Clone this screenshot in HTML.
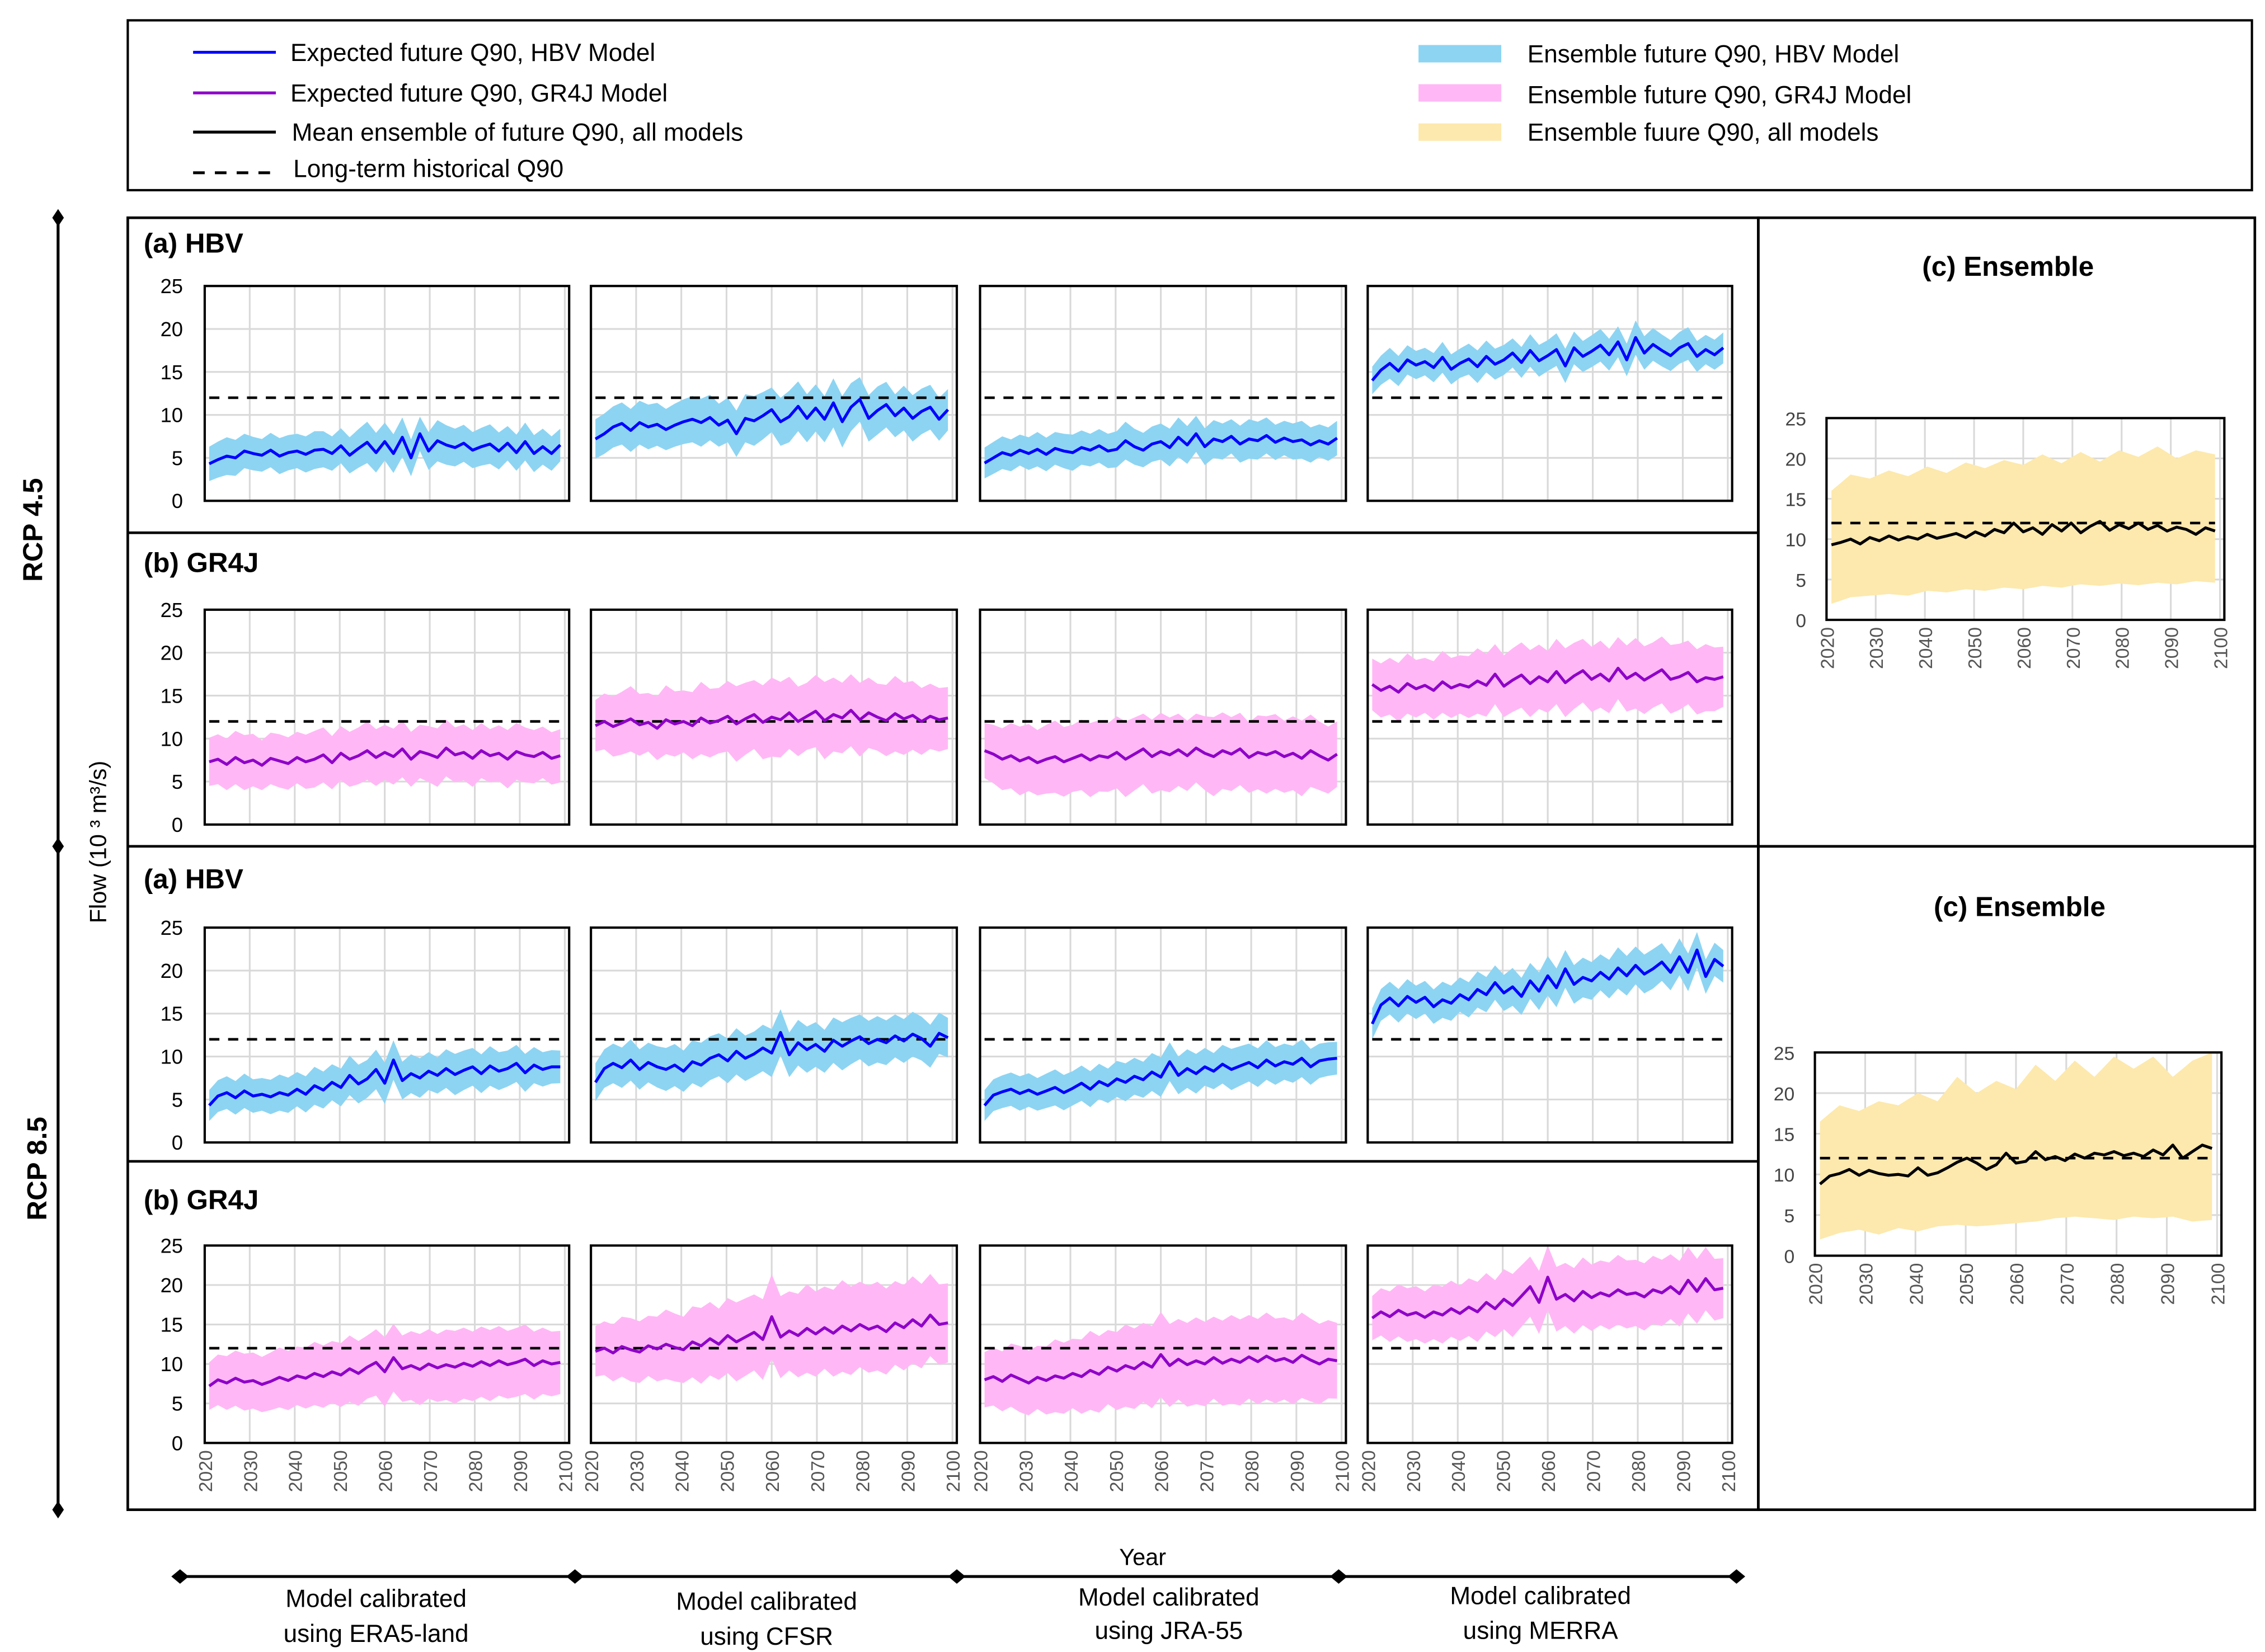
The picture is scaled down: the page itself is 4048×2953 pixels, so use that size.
<!DOCTYPE html>
<html><head><meta charset="utf-8"><style>
html,body{margin:0;padding:0;background:#fff}
svg{display:block}
text{font-family:"Liberation Sans",sans-serif}
</style></head><body>
<svg id="fig" xmlns="http://www.w3.org/2000/svg" width="4048" height="2953" viewBox="0 0 1560 1138">
<rect x="0" y="0" width="1560" height="1138" fill="#fff"/>
<g>
<rect x="88" y="14" width="1463" height="117" fill="none" stroke="#000" stroke-width="1.6"/>
<line x1="133" y1="36" x2="190" y2="36" stroke="#0000ff" stroke-width="2"/>
<text x="200" y="42" font-size="17">Expected future Q90, HBV Model</text>
<line x1="133" y1="64" x2="190" y2="64" stroke="#8e00c8" stroke-width="2"/>
<text x="200" y="70" font-size="17">Expected future Q90, GR4J Model</text>
<line x1="133" y1="91" x2="190" y2="91" stroke="#000" stroke-width="2"/>
<text x="201" y="97" font-size="17">Mean ensemble of future Q90, all models</text>
<line x1="133" y1="119" x2="190" y2="119" stroke="#000" stroke-width="2" stroke-dasharray="8,7"/>
<text x="202" y="122" font-size="17">Long-term historical Q90</text>
<rect x="977" y="31" width="57" height="12" fill="#8dd4f2"/>
<text x="1052" y="43" font-size="17">Ensemble future Q90, HBV Model</text>
<rect x="977" y="58" width="57" height="12" fill="#ffb8f5"/>
<text x="1052" y="71" font-size="17">Ensemble future Q90, GR4J Model</text>
<rect x="977" y="85" width="57" height="12" fill="#fde9ad"/>
<text x="1052" y="97" font-size="17">Ensemble fuure Q90, all models</text>
</g>
<g fill="none" stroke="#000" stroke-width="1.8">
<rect x="88" y="150" width="1123" height="890"/>
<rect x="1211" y="150" width="342" height="433"/>
<rect x="1211" y="583" width="342" height="457"/>
<line x1="88" y1="367" x2="1211" y2="367"/>
<line x1="88" y1="583" x2="1211" y2="583"/>
<line x1="88" y1="800" x2="1211" y2="800"/>
</g>
<g>
<line x1="40" y1="150" x2="40" y2="1040" stroke="#000" stroke-width="2"/>
<path d="M40 144 L44 150 L40 156 L36 150Z M40 577 L44 583 L40 589 L36 583Z M40 1034 L44 1040 L40 1046 L36 1040Z" fill="#000"/>
<text transform="translate(29,365) rotate(-90)" text-anchor="middle" font-size="19" font-weight="bold">RCP 4.5</text>
<text transform="translate(32,805) rotate(-90)" text-anchor="middle" font-size="19" font-weight="bold">RCP 8.5</text>
<text transform="translate(73,580) rotate(-90)" text-anchor="middle" font-size="16">Flow (10 ³ m³/s)</text>
</g>
<g font-size="19" font-weight="bold">
<text x="99" y="174">(a) HBV</text>
<text x="99" y="394">(b) GR4J</text>
<text x="99" y="612">(a) HBV</text>
<text x="99" y="833">(b) GR4J</text>
<text x="1383" y="190" text-anchor="middle">(c) Ensemble</text>
<text x="1391" y="631" text-anchor="middle">(c) Ensemble</text>
</g>
<g>
<text x="787" y="1078" text-anchor="middle" font-size="16">Year</text>
<line x1="124" y1="1086" x2="1196" y2="1086" stroke="#000" stroke-width="2"/>
<path d="M124 1081 L130 1086 L124 1091 L118 1086Z M396 1081 L402 1086 L396 1091 L390 1086Z M659 1081 L665 1086 L659 1091 L653 1086Z M922 1081 L928 1086 L922 1091 L916 1086Z M1196 1081 L1202 1086 L1196 1091 L1190 1086Z" fill="#000"/>
<g font-size="17" text-anchor="middle">
<text x="259" y="1107">Model calibrated</text><text x="259" y="1131">using  ERA5-land</text>
<text x="528" y="1109">Model calibrated</text><text x="528" y="1133">using  CFSR</text>
<text x="805" y="1106">Model calibrated</text><text x="805" y="1129">using  JRA-55</text>
<text x="1061" y="1105">Model calibrated</text><text x="1061" y="1129">using  MERRA</text>
</g>
</g>
<g id="charts"></g>
</svg>
<script>
const yTicks = [0,5,10,15,20,25];
const xTicks = [2020,2030,2040,2050,2060,2070,2080,2090,2100];
const histQ90 = 12;
const m_h45_era=[4.3,4.8,5.2,5.0,5.8,5.5,5.3,5.9,5.2,5.6,5.8,5.4,5.9,6.0,5.5,6.4,5.3,6.1,6.8,5.6,6.9,5.5,7.4,5.0,7.8,5.8,7.0,6.5,6.2,6.7,5.9,6.3,6.6,5.8,6.7,5.6,6.9,5.5,6.3,5.5,6.5];
const w_h45_era=[2.0,2.2,2.0,1.9,2.1,2.0,2.2,2.0,2.1,2.4,2.2,2.3,2.0,2.4,2.2,2.1,2.3,2.0,2.2,2.1,1.9];
const m_h45_cfsr=[7.2,7.8,8.6,9.0,8.2,9.1,8.6,8.9,8.3,8.8,9.2,9.5,9.1,9.7,8.8,9.4,7.8,9.6,9.3,9.9,10.6,9.2,9.8,11.0,9.6,10.8,9.5,11.4,9.2,10.9,11.8,9.6,10.5,11.2,9.9,10.8,9.6,10.4,10.9,9.5,10.6];
const w_h45_cfsr=[2.3,2.4,2.5,2.6,2.4,2.6,2.8,2.5,2.7,2.9,2.6,3.0,2.8,2.7,3.0,2.6,2.8,2.5,2.7,2.6,2.4];
const m_h45_jra=[4.4,5.0,5.6,5.3,5.9,5.5,6.0,5.4,6.1,5.8,5.6,6.2,5.9,6.4,5.8,6.0,7.0,6.3,5.9,6.6,6.9,6.2,7.4,6.5,7.8,6.3,7.2,6.9,7.5,6.6,7.2,7.0,7.6,6.8,7.3,6.9,7.1,6.5,7.0,6.6,7.3];
const w_h45_jra=[1.8,1.9,1.8,2.0,1.9,2.1,1.9,2.0,2.2,2.0,2.1,2.3,2.1,2.2,2.0,2.3,2.1,2.0,2.2,1.9,2.0];
const m_h45_merra=[14.0,15.2,16.0,15.1,16.4,15.8,16.2,15.5,16.7,15.3,16.0,16.5,15.6,16.8,15.9,16.4,17.2,16.1,17.5,16.3,16.9,17.6,15.7,17.8,16.8,17.4,18.1,17.0,18.5,16.4,19.0,17.2,18.2,17.5,16.9,17.8,18.3,16.8,17.6,17.0,17.8];
const w_h45_merra=[1.6,1.8,1.7,1.6,1.8,1.7,1.9,1.8,1.7,1.9,1.8,2.0,1.8,1.9,1.8,2.0,1.9,1.8,1.9,1.7,1.8];
const m_g45_era=[7.3,7.6,7.0,7.8,7.2,7.5,6.9,7.7,7.4,7.1,7.8,7.3,7.6,8.1,7.2,8.3,7.6,8.0,8.6,7.8,8.4,7.9,8.8,7.6,8.5,8.2,7.8,8.9,8.1,8.4,7.7,8.6,8.0,8.3,7.6,8.5,8.1,7.9,8.4,7.7,8.0];
const w_g45_era=[2.8,3.0,3.2,2.9,3.1,3.0,3.3,3.1,3.2,3.4,3.2,3.3,3.1,3.4,3.2,3.3,3.1,3.4,3.2,3.0,3.1];
const m_g45_cfsr=[11.5,12.0,11.4,11.8,12.3,11.6,11.9,11.2,12.2,11.7,12.0,11.5,12.4,11.8,12.1,12.6,11.7,12.3,12.8,11.9,12.5,12.2,13.0,12.0,12.6,13.2,12.1,12.8,12.4,13.3,12.2,13.0,12.5,12.1,12.9,12.3,12.7,12.0,12.6,12.2,12.4];
const w_g45_cfsr=[3.0,3.5,3.8,3.4,4.0,3.6,4.2,3.8,4.4,4.0,4.6,4.2,3.9,4.5,4.1,4.3,3.9,4.4,4.0,3.8,3.6];
const m_g45_jra=[8.6,8.2,7.6,8.0,7.4,7.8,7.2,7.6,7.9,7.3,7.7,8.1,7.5,8.0,7.8,8.4,7.6,8.2,8.8,7.9,8.5,8.1,8.7,8.0,8.9,8.3,7.9,8.6,8.2,8.8,7.8,8.4,8.1,8.5,7.9,8.3,7.7,8.6,8.0,7.5,8.2];
const w_g45_jra=[3.2,3.6,4.0,3.8,4.2,3.9,4.3,4.0,4.4,4.1,4.5,4.2,4.0,4.6,4.3,4.1,4.5,4.2,4.4,4.0,3.8];
const m_g45_merra=[16.3,15.6,16.1,15.4,16.4,15.8,16.2,15.6,16.6,15.9,16.3,16.0,16.7,16.2,17.5,16.1,16.8,17.4,16.4,17.2,16.6,17.8,16.5,17.3,17.9,16.9,17.5,16.7,18.2,17.0,17.6,16.8,17.4,18.0,16.9,17.2,17.7,16.6,17.1,16.9,17.2];
const w_g45_merra=[3.0,3.3,3.5,3.2,3.6,3.4,3.8,3.5,3.7,3.9,3.6,4.0,3.7,3.9,3.6,4.1,3.8,4.0,3.7,3.9,3.5];
const m_h85_era=[4.3,5.4,5.8,5.2,6.0,5.4,5.6,5.3,5.8,5.5,6.2,5.6,6.6,6.1,7.0,6.4,7.8,6.8,7.4,8.5,6.9,9.6,7.2,8.0,7.5,8.3,7.8,8.6,7.9,8.4,8.8,8.0,8.9,8.3,8.6,9.2,8.1,9.0,8.5,8.8,8.8];
const w_h85_era=[1.8,1.9,2.0,1.9,2.1,2.0,2.2,2.1,2.3,2.2,2.4,2.2,2.3,2.1,2.4,2.2,2.3,2.1,2.2,2.0,1.9];
const m_h85_cfsr=[7.0,8.6,9.2,8.7,9.6,8.5,9.3,8.8,8.5,9.0,8.3,9.4,9.0,9.8,10.2,9.5,10.6,9.8,10.3,11.0,10.4,12.8,10.2,11.6,10.8,11.4,10.6,11.9,11.2,11.8,12.3,11.5,12.0,11.6,12.4,11.8,12.6,12.1,11.2,12.7,12.2];
const w_h85_cfsr=[2.2,2.3,2.4,2.3,2.5,2.4,2.6,2.5,2.7,2.6,2.8,2.6,2.7,2.5,2.8,2.6,2.7,2.5,2.6,2.5,2.3];
const m_h85_jra=[4.3,5.5,5.9,6.2,5.7,6.1,5.6,6.0,6.4,5.8,6.3,6.9,6.2,7.1,6.6,7.4,7.0,7.7,7.3,8.2,7.6,9.4,7.8,8.6,8.0,8.8,8.3,9.1,8.5,8.9,9.3,8.7,9.6,8.9,9.4,9.1,9.8,8.8,9.5,9.7,9.8];
const w_h85_jra=[1.8,1.9,2.0,1.9,2.1,2.0,2.1,2.0,2.2,2.1,2.3,2.2,2.3,2.1,2.4,2.2,2.3,2.1,2.2,2.0,1.9];
const m_h85_merra=[13.8,16.0,16.8,15.9,17.0,16.3,16.9,15.8,16.6,16.2,17.2,16.6,17.8,17.2,18.6,17.4,18.1,17.0,18.8,17.6,19.4,18.0,20.2,18.4,19.2,18.8,19.8,19.0,20.3,19.4,20.6,19.6,20.2,21.0,19.8,21.6,19.8,22.4,19.3,21.3,20.5];
const w_h85_merra=[1.8,1.9,2.0,1.9,2.1,2.0,2.1,2.0,2.2,2.1,2.3,2.2,2.3,2.1,2.4,2.2,2.3,2.1,2.2,2.0,1.9];
const m_g85_era=[7.2,8.0,7.6,8.2,7.7,7.9,7.4,7.8,8.3,7.9,8.5,8.2,8.8,8.4,9.0,8.6,9.4,8.8,9.6,10.2,9.0,10.8,9.4,9.8,9.3,10.0,9.5,9.9,9.6,10.1,9.7,10.3,9.8,10.4,9.9,10.2,10.6,9.8,10.4,10.0,10.2];
const w_g85_era=[3.0,3.4,3.6,3.5,3.8,3.7,4.0,3.9,4.2,4.0,4.4,4.2,4.5,4.3,4.6,4.4,4.5,4.3,4.4,4.2,4.0];
const m_g85_cfsr=[11.6,12.0,11.4,12.2,11.8,11.5,12.3,11.9,12.5,12.1,11.8,12.8,12.3,13.2,12.5,13.6,12.8,13.4,14.0,13.1,16.0,13.4,14.2,13.6,14.5,13.8,14.6,13.9,14.8,14.2,15.0,14.4,14.8,14.1,15.2,14.6,15.6,14.8,16.2,15.0,15.2];
const w_g85_cfsr=[3.2,3.6,4.0,3.8,4.4,4.2,4.8,4.5,5.0,4.8,5.4,5.0,5.6,5.2,5.8,5.4,5.6,5.3,5.5,5.2,5.0];
const m_g85_jra=[8.0,8.4,7.8,8.6,8.1,7.6,8.3,7.9,8.5,8.2,8.8,8.4,9.2,8.7,9.6,9.1,9.8,9.4,10.2,9.6,11.2,9.8,10.6,9.9,10.4,10.0,10.8,10.1,10.6,10.2,10.9,10.3,11.0,10.4,10.7,10.2,11.1,10.5,10.0,10.6,10.4];
const w_g85_jra=[3.5,3.8,4.2,4.0,4.6,4.4,5.0,4.7,5.2,5.0,5.4,5.1,5.5,5.2,5.6,5.3,5.5,5.2,5.4,5.1,4.8];
const m_g85_merra=[15.8,16.6,16.0,16.8,16.2,16.5,15.9,16.6,16.2,17.0,16.4,17.2,16.6,17.8,17.0,18.2,17.4,18.6,19.8,17.8,21.0,18.2,18.8,18.0,19.2,18.4,19.0,18.6,19.4,18.8,19.0,18.5,19.4,19.0,19.8,18.9,20.6,19.2,20.8,19.4,19.6];
const w_g85_merra=[2.8,3.2,3.4,3.3,3.6,3.5,3.8,3.6,4.0,3.8,4.2,4.0,4.3,4.1,4.4,4.2,4.3,4.1,4.2,4.0,3.8];
const m_ens45=[9.3,9.6,10.0,9.4,10.2,9.8,10.4,9.9,10.3,10.0,10.6,10.1,10.4,10.7,10.2,10.9,10.4,11.2,10.8,12.0,10.9,11.4,10.6,11.8,11.0,12.0,10.8,11.6,12.2,11.1,11.8,11.3,12.0,11.2,11.7,11.0,11.5,11.2,10.6,11.4,11.0];
const lo_ens45=[2.0,2.8,3.0,3.2,3.0,3.6,3.4,3.8,3.6,4.0,3.8,4.2,4.0,4.4,4.2,4.5,4.3,4.6,4.4,4.8,4.6];
const hi_ens45=[16.0,18.0,17.5,18.5,17.8,19.0,18.2,19.5,18.8,19.8,19.2,20.5,19.4,20.8,19.6,21.0,20.2,21.5,20.0,21.0,20.5];
const m_ens85=[8.8,9.8,10.1,10.6,9.9,10.5,10.1,9.9,10.0,9.8,10.8,9.9,10.2,10.8,11.5,12.0,11.4,10.6,11.2,12.6,11.4,11.6,12.8,11.8,12.2,11.7,12.5,12.0,12.6,12.4,12.8,12.3,12.6,12.2,13.0,12.4,13.6,12.0,12.8,13.6,13.2];
const lo_ens85=[2.0,2.8,3.2,2.6,3.4,3.0,3.6,3.8,3.6,3.8,4.0,4.2,4.6,4.8,4.6,4.4,4.8,4.6,4.8,4.2,4.4];
const hi_ens85=[16.5,18.5,17.8,19.0,18.5,20.0,19.0,22.0,20.0,21.5,20.5,23.5,21.5,24.0,22.0,24.5,23.0,24.5,22.0,24.0,25.0];

const NS='http://www.w3.org/2000/svg';
const root=document.getElementById('charts');
function mk(tag,parent,attrs){const e=document.createElementNS(NS,tag);for(const k in attrs)e.setAttribute(k,attrs[k]);parent.appendChild(e);return e;}
function interp(arr,t){const p=t*(arr.length-1);const i=Math.min(Math.floor(p),arr.length-2);const f=p-i;return arr[i]*(1-f)+arr[i+1]*f;}

function chart(name,x0,x1,y0,y1,mean,lo,hi,lineCol,bandCol,showXLabels,showYLabels,big){
  const g=mk('g',root,{});
  
  
  const xs=yr=>x0+(yr-2020)/80*(x1-x0-3);
  const ys=v=>y1-Math.max(0,Math.min(25,v))/25*(y1-y0);
  yTicks.forEach(t=>{mk('line',g,{x1:x0,x2:x1,y1:ys(t),y2:ys(t),stroke:'#d9d9d9','stroke-width':1.2});});
  xTicks.forEach(t=>{mk('line',g,{x1:xs(t),x2:xs(t),y1:y0,y2:y1,stroke:'#d9d9d9','stroke-width':1.2});});
  const n=mean.length;
  const yearOf=i=>2021+i*78/(n-1);
  let up=[],dn=[];
  for(let i=0;i<n;i++){const t=i/(n-1);const m=mean[i];
    let h,l; if(hi){h=interp(hi,t);l=interp(lo,t);}else{const w=interp(lo,t);h=m+w;l=m-w;}
    up.push(xs(yearOf(i)).toFixed(1)+','+ys(h).toFixed(1));dn.push(xs(yearOf(i)).toFixed(1)+','+ys(l).toFixed(1));}
  const band=mk('polygon',g,{points:up.concat(dn.reverse()).join(' '),fill:bandCol});
  
  
  const hl=mk('line',g,{x1:xs(2021),x2:xs(2099),y1:ys(histQ90),y2:ys(histQ90),stroke:'#000','stroke-width':1.8,'stroke-dasharray':'7,6'});
  
  
  const pts=mean.map((v,i)=>xs(yearOf(i)).toFixed(1)+','+ys(v).toFixed(1)).join(' ');
  const ml=mk('polyline',g,{points:pts,fill:'none',stroke:lineCol,'stroke-width':2,'stroke-linejoin':'round'});
  
  
  mk('rect',g,{x:x0,y:y0,width:x1-x0,height:y1-y0,fill:'none',stroke:'#000','stroke-width':1.6});
  if(showYLabels){yTicks.forEach(t=>{const tx=mk('text',g,{x:x0-(big?14:15),y:ys(t)+5,'text-anchor':'end','font-size':big?13:14,fill:big?'#444':'#000'});tx.textContent=t;
    
    });}
  if(showXLabels){xTicks.forEach(t=>{const tx=mk('text',g,{transform:`translate(${xs(t)+5},${y1+5}) rotate(-90)`,'text-anchor':'end','font-size':13,fill:'#555'});tx.textContent=t;
    
    });}
}
const cols=[[141,392],[407,659],[675,927],[942,1193]];
const rows=[[197,345],[420,568],[639,787],[858,994]];
const BLUE='#0000ff',PURP='#8e00c8',SKY='#8dd4f2',PINK='#ffb8f5';
const rowDefs=[
 ['h45',BLUE,SKY,[m_h45_era,m_h45_cfsr,m_h45_jra,m_h45_merra],[w_h45_era,w_h45_cfsr,w_h45_jra,w_h45_merra]],
 ['g45',PURP,PINK,[m_g45_era,m_g45_cfsr,m_g45_jra,m_g45_merra],[w_g45_era,w_g45_cfsr,w_g45_jra,w_g45_merra]],
 ['h85',BLUE,SKY,[m_h85_era,m_h85_cfsr,m_h85_jra,m_h85_merra],[w_h85_era,w_h85_cfsr,w_h85_jra,w_h85_merra]],
 ['g85',PURP,PINK,[m_g85_era,m_g85_cfsr,m_g85_jra,m_g85_merra],[w_g85_era,w_g85_cfsr,w_g85_jra,w_g85_merra]]];
const cn=['era5','cfsr','jra55','merra'];
rowDefs.forEach((r,ri)=>{cols.forEach((c,ci)=>{chart('chart-'+r[0]+'-'+cn[ci],c[0],c[1],rows[ri][0],rows[ri][1],r[3][ci],r[4][ci],null,r[1],r[2],ri===3,ci===0,false);});});
chart('chart-ensemble-rcp45',1258,1532,288,427,m_ens45,lo_ens45,hi_ens45,'#000','#fde9ad',true,true,true);
chart('chart-ensemble-rcp85',1250,1530,725,865,m_ens85,lo_ens85,hi_ens85,'#000','#fde9ad',true,true,true);
</script>
</body></html>
